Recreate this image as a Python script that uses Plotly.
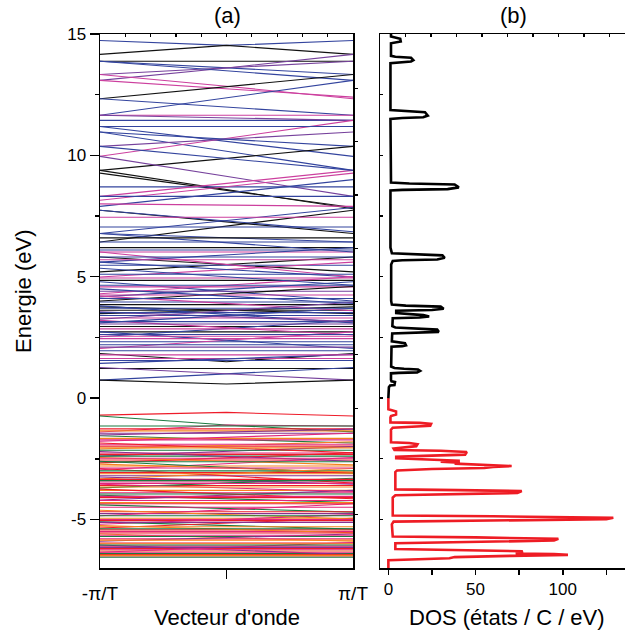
import plotly.graph_objects as go

# ---------------- data ----------------
k_points = [-1.0, 0.0, 1.0]  # -pi/T, 0, pi/T

# conduction bands: energy (eV) at -pi/T, 0, pi/T and colour family
cond_left = [14.73, 14.16, 13.88, 13.88, 13.33, 13.09, 13.88, 13.33, 13.09, 12.33,
             11.65, 12.33, 11.65, 11.44, 11.65, 11.19, 10.96, 9.96, 10.37, 10.96,
             9.38, 9.27, 9.38, 9.96, 8.70, 8.31, 8.15, 7.90, 10.37, 11.19,
             8.31, 7.74, 8.00, 6.43, 7.74, 6.78, 6.43, 6.78, 6.02, 6.20,
             5.81, 5.20, 5.47, 4.99, 5.60, 4.79, 4.58, 4.17, 6.02, 6.78,
             5.60, 4.40, 5.81, 5.10, 4.85, 4.30, 3.96, 3.76, 3.48, 3.62,
             3.85, 3.30, 3.10, 3.80, 2.95, 2.73, 2.53, 2.32, 2.04, 2.73,
             1.84, 1.63, 1.43, 1.22, 0.74, 1.26, 0.74, 2.10, 3.20, 4.20,
             4.00, 3.15, 2.55, 1.95, 3.55, 4.10, 3.40,
             4.95, 5.35, 4.65, 4.25, 3.70, 3.52, 3.05, 2.85, 2.62, 2.45,
             2.20, 1.78, 1.55, 5.70, 6.10, 6.60, 7.05, 7.45, 3.25, 4.50]
cond_mid = [14.53, 14.53, 13.88, 13.62, 13.62, 13.60, 13.49, 12.85, 12.75, 12.83,
            12.37, 11.99, 11.65, 11.44, 11.55, 10.58, 10.17, 10.70, 10.67, 10.67,
            9.87, 8.56, 8.60, 9.14, 8.70, 8.85, 8.71, 8.45, 9.87, 11.19,
            8.31, 7.26, 7.95, 7.08, 7.30, 7.30, 6.43, 6.60, 6.02, 6.20,
            5.50, 5.50, 5.47, 5.30, 5.30, 4.40, 4.58, 4.48, 5.50, 6.40,
            5.90, 4.40, 5.81, 5.10, 4.85, 4.65, 3.96, 3.62, 3.62, 3.62,
            3.85, 3.30, 3.40, 3.45, 2.95, 2.73, 2.87, 2.32, 2.39, 2.39,
            1.50, 1.63, 1.62, 1.22, 1.00, 1.00, 0.58, 2.10, 2.90, 3.90,
            4.30, 3.15, 2.55, 1.95, 3.35, 4.10, 3.40,
            4.95, 5.00, 4.65, 4.25, 3.70, 3.52, 3.05, 2.85, 2.62, 2.45,
            2.20, 1.78, 1.55, 5.70, 6.10, 6.60, 7.05, 7.45, 3.60, 4.20]
cond_right = [14.73, 14.16, 13.88, 13.33, 13.88, 14.16, 13.09, 12.33, 12.40, 13.33,
              13.09, 11.65, 11.65, 11.44, 11.44, 9.96, 9.38, 11.44, 10.96, 10.37,
              10.37, 7.85, 7.80, 8.31, 8.70, 9.38, 9.27, 9.00, 9.38, 11.19,
              8.31, 6.78, 7.90, 7.74, 6.85, 7.85, 6.43, 6.43, 6.02, 6.20,
              5.20, 5.81, 5.47, 5.60, 4.99, 4.00, 4.58, 4.79, 4.99, 6.02,
              6.20, 4.40, 5.81, 5.10, 4.85, 5.00, 3.96, 3.48, 3.76, 3.62,
              3.85, 3.30, 3.70, 3.10, 2.95, 2.73, 3.20, 2.32, 2.73, 2.04,
              1.84, 1.63, 1.80, 1.22, 1.26, 0.74, 0.74, 2.10, 2.60, 3.60,
              4.60, 3.15, 2.55, 1.95, 3.15, 4.10, 3.40,
              4.95, 4.65, 4.65, 4.25, 3.70, 3.52, 3.05, 2.85, 2.62, 2.45,
              2.20, 1.78, 1.55, 5.70, 6.10, 6.60, 7.05, 7.45, 3.95, 3.90]
cond_family = ["b", "k", "k", "b", "p", "p", "b", "m", "m", "k",
               "b", "b", "m", "b", "p", "b", "b", "m", "p", "b",
               "k", "k", "k", "p", "b", "m", "m", "b", "b", "b",
               "b", "k", "m", "k", "b", "b", "b", "b", "m", "k",
               "k", "k", "b", "m", "b", "b", "m", "b", "m", "b",
               "b", "p", "b", "b", "k", "m", "b", "k", "k", "k",
               "k", "m", "b", "b", "k", "k", "b", "b", "m", "b",
               "k", "m", "b", "k", "b", "p", "k", "p", "m", "m",
               "k", "b", "m", "b", "p", "b", "b",
               "m", "b", "b", "m", "b", "b", "p", "m", "b", "m",
               "b", "m", "b", "m", "b", "k", "b", "m", "p", "b"]

# valence bands
val_left = [-0.70, -0.74, -1.40, -1.15, -1.27, -1.45, -1.55, -1.66, -1.78, -1.98,
            -2.10, -2.26, -2.39, -2.39, -2.55, -2.67, -2.80, -2.95, -2.60, -3.07,
            -3.20, -3.33, -3.46, -2.90, -3.60, -3.70, -3.80, -3.90, -4.00, -4.10,
            -4.20, -4.30, -4.40, -4.68, -4.76, -4.85, -4.95, -5.05, -5.20, -5.10,
            -5.43, -5.50, -5.60, -5.70, -5.80, -5.97, -5.90, -6.10, -6.20, -6.30,
            -6.40, -6.50, -6.56, -6.05, -6.35, -1.90, -2.15, -2.45, -3.00, -3.35,
            -3.55, -4.50, -5.30, -5.35, -6.00, -6.45,
            -1.35, -1.52, -1.72, -1.85, -2.05, -2.32, -2.20, -2.48, -2.62, -2.72,
            -2.88, -3.12, -3.25, -3.40, -3.52, -3.66, -3.75, -3.95, -4.05, -4.22,
            -4.35, -4.62, -4.85, -5.00, -5.12, -5.25, -5.38, -5.56, -5.65, -5.85,
            -6.05, -6.15, -6.25, -6.35, -6.48]
val_mid = [-0.59, -1.11, -1.11, -1.15, -1.27, -1.45, -1.70, -1.66, -1.60, -1.98,
           -1.95, -2.26, -2.20, -2.39, -2.55, -2.45, -2.80, -2.70, -2.85, -3.07,
           -3.20, -3.10, -3.46, -3.20, -3.60, -3.50, -3.80, -3.90, -4.15, -4.10,
           -4.00, -4.30, -4.55, -4.68, -4.76, -4.60, -4.95, -5.05, -5.00, -5.25,
           -5.43, -5.50, -5.75, -5.70, -5.80, -5.97, -5.75, -6.10, -6.20, -6.30,
           -6.40, -6.50, -6.56, -6.25, -6.15, -1.90, -2.15, -2.60, -3.00, -3.35,
           -3.70, -4.50, -5.30, -5.15, -6.00, -6.45,
           -1.35, -1.40, -1.72, -2.05, -2.05, -2.32, -2.40, -2.48, -2.62, -2.90,
           -2.88, -3.12, -3.40, -3.40, -3.52, -3.66, -3.95, -3.95, -4.05, -4.22,
           -4.35, -4.80, -4.85, -5.00, -5.12, -5.40, -5.38, -5.56, -5.65, -5.85,
           -6.05, -6.15, -6.25, -6.35, -6.48]
val_right = [-0.74, -1.39, -1.15, -1.15, -1.27, -1.45, -1.85, -1.66, -1.45, -1.98,
             -1.80, -2.26, -2.00, -2.39, -2.55, -2.25, -2.80, -2.45, -3.10, -3.07,
             -3.20, -2.90, -3.46, -3.50, -3.60, -3.30, -3.80, -3.90, -4.30, -4.10,
             -3.80, -4.30, -4.70, -4.68, -4.76, -4.35, -4.95, -5.05, -4.80, -5.40,
             -5.43, -5.50, -5.90, -5.70, -5.80, -5.97, -5.60, -6.10, -6.20, -6.30,
             -6.40, -6.50, -6.56, -6.45, -5.95, -1.90, -2.15, -2.75, -3.00, -3.35,
             -3.85, -4.50, -5.30, -4.95, -6.00, -6.45,
             -1.35, -1.28, -1.72, -2.25, -2.05, -2.32, -2.60, -2.48, -2.62, -3.05,
             -2.88, -3.12, -3.55, -3.40, -3.52, -3.66, -4.15, -3.95, -4.05, -4.22,
             -4.35, -4.98, -4.85, -5.00, -5.12, -5.55, -5.38, -5.56, -5.65, -5.85,
             -6.05, -6.15, -6.25, -6.35, -6.48]
val_family = ["r", "g", "pk", "g", "r", "pu", "g", "o", "pk", "r",
              "o", "pk", "pu", "g", "r", "r", "o", "pk", "g", "r",
              "pu", "o", "pk", "r", "r", "g", "o", "pk", "g", "r",
              "pu", "o", "g", "r", "pu", "pk", "o", "r", "pk", "g",
              "r", "pk", "o", "g", "pk", "r", "pu", "pk", "r", "o",
              "g", "r", "g", "pu", "pk", "pk", "g", "o", "g", "r",
              "pk", "pk", "o", "r", "o", "r",
              "o", "pu", "pk", "r", "o", "r", "pu", "pk", "g", "o",
              "pk", "o", "pu", "g", "pk", "o", "r", "g", "pk", "pk",
              "r", "o", "g", "pk", "pu", "o", "g", "r", "pk", "o",
              "g", "pu", "pk", "pk", "o"]

# density of states (states / C / eV) along energy (eV)
dos_cond_E = [0.00, 0.45, 0.52, 0.54, 0.66, 0.69, 0.75, 1.02, 1.04, 1.06,
              1.12, 1.18, 1.21, 1.24, 1.30, 2.12, 2.14, 2.17, 2.26, 2.30,
              2.34, 2.66, 2.69, 2.73, 2.82, 2.87, 2.91, 2.96, 3.29, 3.32,
              3.36, 3.42, 3.46, 3.50, 3.60, 3.63, 3.68, 3.77, 3.81, 3.85,
              4.00, 5.50, 5.65, 5.68, 5.71, 5.78, 5.88, 5.93, 5.97, 6.20,
              8.55, 8.58, 8.61, 8.68, 8.80, 8.84, 8.88, 11.50, 11.54, 11.57,
              11.64, 11.78, 11.83, 11.87, 13.80, 13.84, 13.87, 13.92, 14.02, 14.06,
              14.10, 14.62, 14.66, 14.69, 14.80, 14.86, 14.90, 15.10]
dos_cond_val = [0.0, 0.3, 1.0, 3.5, 3.8, 1.8, 1.5, 1.5, 6.0, 16.5,
                18.2, 17.0, 9.0, 3.5, 1.6, 1.8, 8.0, 10.1, 9.5, 4.0,
                2.0, 2.2, 20.0, 28.9, 28.0, 12.0, 4.0, 2.3, 2.5, 18.0,
                23.4, 20.0, 10.0, 4.5, 4.5, 25.0, 31.7, 30.0, 10.0, 2.0,
                1.6, 1.6, 2.5, 8.0, 28.0, 32.3, 31.0, 10.0, 2.0, 1.2,
                1.2, 8.0, 34.0, 40.4, 38.0, 12.0, 1.5, 1.2, 8.0, 20.0,
                22.6, 21.0, 8.0, 1.2, 1.2, 8.0, 13.0, 14.3, 13.0, 4.0,
                1.5, 1.5, 5.0, 7.1, 6.8, 3.0, 1.5, 1.5]

dos_val_E = [0.00, -0.46, -0.50, -0.55, -0.68, -0.74, -0.80, -1.00, -1.02, -1.06,
             -1.14, -1.19, -1.22, -1.30, -1.82, -1.85, -1.90, -1.98, -2.04, -2.08,
             -2.14, -2.17, -2.22, -2.33, -2.38, -2.42, -2.48, -2.54, -2.58, -2.62,
             -2.66, -2.70, -2.76, -2.80, -2.84, -2.88, -2.92, -2.98, -3.05, -3.76,
             -3.79, -3.83, -3.91, -3.96, -4.00, -4.10, -4.84, -4.87, -4.93, -4.99,
             -5.05, -5.09, -5.20, -5.70, -5.74, -5.80, -5.87, -5.93, -5.98, -6.22,
             -6.27, -6.31, -6.37, -6.40, -6.43, -6.46, -6.50, -6.55, -6.60, -6.65,
             -6.68, -7.10]
dos_val_val = [0.0, 0.0, 2.0, 4.4, 4.4, 1.5, 1.2, 1.2, 18.0, 24.5,
               24.0, 14.0, 2.5, 1.5, 1.5, 12.0, 16.7, 16.0, 6.0, 3.0,
               3.5, 30.0, 45.0, 44.0, 20.0, 4.5, 4.5, 25.0, 41.0, 30.0,
               41.0, 38.0, 55.0, 70.7, 60.0, 55.0, 25.0, 5.0, 4.0, 4.0,
               40.0, 76.5, 74.0, 30.0, 4.0, 2.5, 2.5, 60.0, 129.0, 125.0,
               40.0, 3.0, 2.0, 2.5, 50.0, 97.5, 95.0, 30.0, 4.0, 4.0,
               50.0, 77.0, 76.0, 73.0, 95.0, 103.0, 70.0, 38.0, 35.0, 3.0,
               0.0, 0.0]

energy_ticks = [-5, 0, 5, 10, 15]
energy_ticktext = ["-5", "0", "5", "10", "15"]
k_ticks = [-1.0, 1.0]
k_ticktext = ["-\u03c0/T", "\u03c0/T"]
dos_ticks = [0, 25, 50, 75, 100, 125]
dos_ticktext = ["0", "", "50", "", "100", ""]

# ---------------- style ----------------
palette = {
    "k": "#111111", "b": "#33449e", "m": "#cc3f9e", "p": "#76419c",
    "r": "#ee1c2a", "g": "#1c7a40", "o": "#f5821f", "pk": "#e2267c", "pu": "#86328f",
}
FONT = "Liberation Sans, Arial, sans-serif"

fig = go.Figure()

for lo, mi, hi, fam in zip(val_left, val_mid, val_right, val_family):
    fig.add_trace(go.Scatter(x=k_points, y=[lo, mi, hi], mode="lines",
                             line=dict(color=palette[fam], width=1.1),
                             hoverinfo="skip", showlegend=False,
                             xaxis="x", yaxis="y"))
for lo, mi, hi, fam in zip(cond_left, cond_mid, cond_right, cond_family):
    fig.add_trace(go.Scatter(x=k_points, y=[lo, mi, hi], mode="lines",
                             line=dict(color=palette[fam], width=1.1),
                             hoverinfo="skip", showlegend=False,
                             xaxis="x", yaxis="y"))

fig.add_trace(go.Scatter(x=dos_val_val, y=dos_val_E, mode="lines",
                         line=dict(color="#ee1c24", width=2.6),
                         showlegend=False, xaxis="x2", yaxis="y2"))
fig.add_trace(go.Scatter(x=dos_cond_val, y=dos_cond_E, mode="lines",
                         line=dict(color="#000000", width=2.6),
                         showlegend=False, xaxis="x2", yaxis="y2"))

ydom = [1 - 568 / 634, 1 - 34 / 634]
axline = dict(showline=True, linecolor="black", linewidth=1.5,
              showgrid=False, zeroline=False, automargin=False)
deco = dict(showticklabels=False, showgrid=False, zeroline=False,
            showline=False, automargin=False, tickcolor="black")
tickfont = dict(family=FONT, size=17, color="black")
ktickfont = dict(family=FONT, size=19, color="black")

fig.update_layout(
    template="none",
    width=625, height=634,
    margin=dict(l=0, r=0, t=0, b=0, pad=0, autoexpand=False),
    paper_bgcolor="white", plot_bgcolor="white",
    font=dict(family=FONT, color="black"),
    xaxis=dict(domain=[100 / 625, 353 / 625], range=[-1, 1], anchor="y",
               tickvals=k_ticks, ticktext=k_ticktext, ticks="outside",
               ticklen=8, tickcolor="rgba(0,0,0,0)", tickfont=ktickfont,
               mirror=True, **axline),
    yaxis=dict(domain=ydom, range=[-7, 15], anchor="x",
               tickvals=energy_ticks, ticktext=energy_ticktext,
               ticks="outside", ticklen=9, tickwidth=1.5, tickcolor="black",
               minor=dict(tickvals=[-2.5, 2.5, 7.5, 12.5], ticks="outside",
                          ticklen=4, tickwidth=1.5, tickcolor="black"),
               tickfont=tickfont, mirror=True, **axline),
    xaxis2=dict(domain=[380 / 625, 1.0], range=[-4.8, 135.7], anchor="y2",
                tickvals=dos_ticks, ticktext=dos_ticktext, ticks="outside",
                ticklen=5, tickwidth=1.5, tickcolor="black", tickfont=tickfont,
                mirror=True, **axline),
    yaxis2=dict(domain=ydom, range=[-7, 15], anchor="x2",
                tickvals=[-5, -2.5, 0, 2.5, 5, 7.5, 10, 12.5], ticks="inside",
                ticklen=3, tickwidth=1.2, tickcolor="black",
                showticklabels=False, mirror=False, **axline),
    # decorative tick rows on the other sides
    xaxis3=dict(overlaying="x", side="top", anchor="y", range=[0, 10],
                tickvals=list(range(1, 10)), ticks="inside", ticklen=3,
                tickwidth=1.2, **deco),
    xaxis4=dict(overlaying="x2", side="top", anchor="y2", range=[0, 245 / 25.5],
                tickvals=list(range(1, 10)), ticks="inside", ticklen=3,
                tickwidth=1.2, **deco),
    xaxis5=dict(overlaying="x", side="bottom", anchor="y", range=[-1, 1],
                tickvals=[0], ticks="outside", ticklen=10, tickwidth=1.5, **deco),
    yaxis3=dict(overlaying="y", side="right", anchor="x", range=[0, 534 / 53.3],
                tickvals=list(range(1, 10)), ticks="outside", ticklen=4,
                tickwidth=1.2, **deco),
)

# keep the decorative axes alive with empty traces
for xa, ya in [("x3", "y"), ("x4", "y2"), ("x5", "y"), ("x", "y3")]:
    fig.add_trace(go.Scatter(x=[], y=[], xaxis=xa, yaxis=ya, showlegend=False))

title_font = dict(family=FONT, size=22, color="black")
ann = [
    dict(text="(a)", x=227 / 625, y=1 - 16 / 634),
    dict(text="(b)", x=513 / 625, y=1 - 16 / 634),
    dict(text="Vecteur d'onde", x=227 / 625, y=1 - 617 / 634),
    dict(text="DOS (états / C / eV)", x=507 / 625, y=1 - 617 / 634),
    dict(text="Energie (eV)", x=23 / 625, y=1 - 291 / 634, textangle=-90),
]
for a in ann:
    fig.add_annotation(xref="paper", yref="paper", showarrow=False,
                       xanchor="center", yanchor="middle", font=title_font, **a)

fig.write_html("out.html",
               config={"displayModeBar": False, "staticPlot": True},
               post_script="document.body.style.margin='0px';"
                           "document.body.style.overflow='hidden';")
